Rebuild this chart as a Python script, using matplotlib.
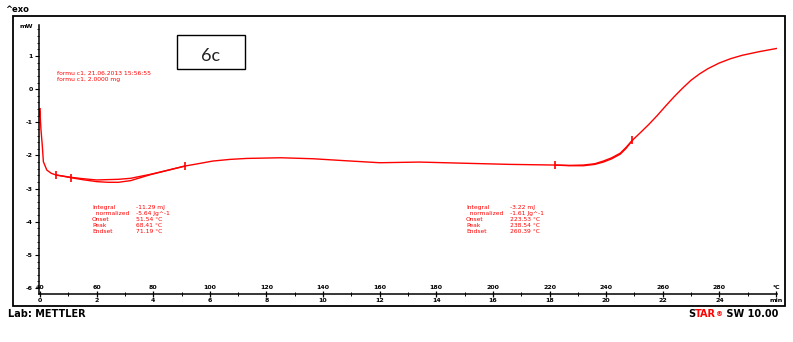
import matplotlib.pyplot as plt
from matplotlib.patches import Rectangle
from matplotlib.ticker import MultipleLocator

W, H = 793, 342

# DSC curve, time in min vs heat flow in mW
time_min = [0.0, 0.03, 0.08, 0.12, 0.24, 0.40, 0.57, 1.09, 1.5, 2.0, 2.4, 2.77,
            3.2, 3.9, 4.5, 5.12, 5.65, 6.1, 6.7, 7.3, 8.5, 9.65, 10.8, 12.0,
            13.4, 15.2, 16.6, 18.2, 18.7, 19.2, 19.6, 19.9, 20.2, 20.5, 20.7,
            20.93, 21.2, 21.5, 21.8, 22.1, 22.4, 22.7, 23.0, 23.3, 23.6, 24.0,
            24.4, 24.8, 25.4, 26.04]
signal_mw = [-0.68, -1.17, -1.69, -2.19, -2.44, -2.54, -2.59, -2.67, -2.73, -2.79,
             -2.81, -2.81, -2.76, -2.58, -2.45, -2.32, -2.24, -2.17, -2.12, -2.09,
             -2.07, -2.10, -2.16, -2.22, -2.20, -2.24, -2.27, -2.29, -2.30, -2.29,
             -2.25, -2.17, -2.07, -1.93, -1.76, -1.54, -1.32, -1.07, -0.80, -0.51,
             -0.23, 0.03, 0.27, 0.46, 0.62, 0.79, 0.92, 1.02, 1.13, 1.23]

# integration baselines
base1_t = [0.57, 1.09, 1.5, 2.0, 2.77, 3.2, 3.9, 4.5, 5.12]
base1_mw = [-2.59, -2.66, -2.70, -2.74, -2.72, -2.69, -2.57, -2.45, -2.32]
base2_t = [18.2, 18.7, 19.2, 19.6, 19.9, 20.2, 20.5, 20.7, 20.93]
base2_mw = [-2.29, -2.31, -2.31, -2.27, -2.20, -2.10, -1.96, -1.79, -1.54]

limit_t = [0.0, 0.57, 1.09, 5.12, 18.2, 20.93]
limit_mw = [-0.68, -2.59, -2.67, -2.32, -2.29, -1.54]

min_ticks = [0, 2, 4, 6, 8, 10, 12, 14, 16, 18, 20, 22, 24, 26]
min_labels = ["0", "2", "4", "6", "8", "10", "12", "14", "16", "18", "20", "22", "24", "min"]
temp_labels = ["40", "60", "80", "100", "120", "140", "160", "180", "200", "220",
               "240", "260", "280", "°C"]
y_ticks = [-6, -5, -4, -3, -2, -1, 0, 1]

header_lines = ["formu c1, 21.06.2013 15:56:55", "formu c1, 2.0000 mg"]
peak1_names = ["Integral", "  normalized", "Onset", "Peak", "Endset"]
peak1_values = ["-11.29 mJ", "-5.64 Jg^-1", "51.54 °C", "68.41 °C", "71.19 °C"]
peak2_names = ["Integral", "  normalized", "Onset", "Peak", "Endset"]
peak2_values = ["-3.22 mJ", "-1.61 Jg^-1", "223.53 °C", "238.54 °C", "260.39 °C"]


def fx(px):
    return px / W


def fy(py):
    return 1 - py / H


fig = plt.figure(figsize=(W / 100, H / 100), dpi=100)

# outer frame
fig.patches.append(Rectangle((fx(13), fy(306)), fx(785) - fx(13), fy(16) - fy(306),
                             transform=fig.transFigure, fill=False,
                             edgecolor="black", linewidth=1.3))

ax = fig.add_axes([fx(39), fy(294), fx(777) - fx(39), fy(25) - fy(294)])
ax.set_xlim(-0.035, 26.035)
ax.set_ylim(-6.18, 1.935)
ax.patch.set_alpha(0)
for side in ["top", "right"]:
    ax.spines[side].set_visible(False)
for side in ["left", "bottom"]:
    ax.spines[side].set_linewidth(1.1)

ax.plot(time_min, signal_mw, color="red", linewidth=1.0)
ax.plot(base1_t, base1_mw, color="red", linewidth=1.0)
ax.plot(base2_t, base2_mw, color="red", linewidth=1.0)
ax.plot(limit_t, limit_mw, linestyle="none", marker="|", markersize=6,
        markeredgewidth=1.2, color="red")

ax.set_yticks(y_ticks)
ax.set_yticklabels([str(v) for v in y_ticks], fontsize=4.5, fontweight="bold")
ax.yaxis.set_minor_locator(MultipleLocator(0.2))
ax.tick_params(axis="y", which="major", direction="out", length=3, width=0.8, pad=1.5)
ax.tick_params(axis="y", which="minor", direction="out", length=1.5, width=0.6)

ax.set_xticks(min_ticks)
ax.set_xticklabels(min_labels, fontsize=4.5, fontweight="bold")
ax.xaxis.set_minor_locator(MultipleLocator(1))
ax.tick_params(axis="x", which="major", direction="inout", length=5, width=0.9, pad=0.5)
ax.tick_params(axis="x", which="minor", direction="inout", length=3, width=0.7)

for t, lbl in zip(min_ticks, temp_labels):
    ax.annotate(lbl, (t, 0), xycoords=ax.get_xaxis_transform(), xytext=(0, 3),
                textcoords="offset points", ha="center", va="bottom",
                fontsize=4.5, fontweight="bold")

fig.text(fx(33), fy(27), "mW", ha="right", va="center", fontsize=4.5, fontweight="bold")
fig.text(fx(5), fy(9), "^exo", ha="left", va="center", fontsize=6, fontweight="bold")

# sample info
for i, line in enumerate(header_lines):
    fig.text(fx(57), fy(73 + i * 7), line, ha="left", va="center",
             fontsize=4.3, color="red")

# evaluation results
for x_name, x_val, names, values in [(92, 136, peak1_names, peak1_values),
                                     (466, 510, peak2_names, peak2_values)]:
    for i, (name, val) in enumerate(zip(names, values)):
        y = 207 + i * 6.2
        fig.text(fx(x_name), fy(y), name, ha="left", va="center",
                 fontsize=4.3, color="red")
        fig.text(fx(x_val), fy(y), val, ha="left", va="center",
                 fontsize=4.3, color="red")

# sample label box
fig.patches.append(Rectangle((fx(177), fy(69)), fx(245) - fx(177), fy(35) - fy(69),
                             transform=fig.transFigure, fill=False,
                             edgecolor="black", linewidth=1.0))
fig.text(fx(211), fy(56), "6c", ha="center", va="center", fontsize=13,
         family="Lato", color="#222222")

fig.text(fx(8), fy(314), "Lab: METTLER", ha="left", va="center",
         fontsize=7, fontweight="bold")

# STAR SW footer with coloured part
fig.canvas.draw()
renderer = fig.canvas.get_renderer()
x_px = 688
for piece, col in [("S", "black"), ("TAR", "red"), ("®", "red"), (" SW 10.00", "black")]:
    size = 5 if piece == "®" else 7
    txt = fig.text(fx(x_px), fy(314), piece, ha="left", va="center",
                   fontsize=size, fontweight="bold", color=col)
    x_px += txt.get_window_extent(renderer).width

fig.savefig("out.png", dpi=100)
